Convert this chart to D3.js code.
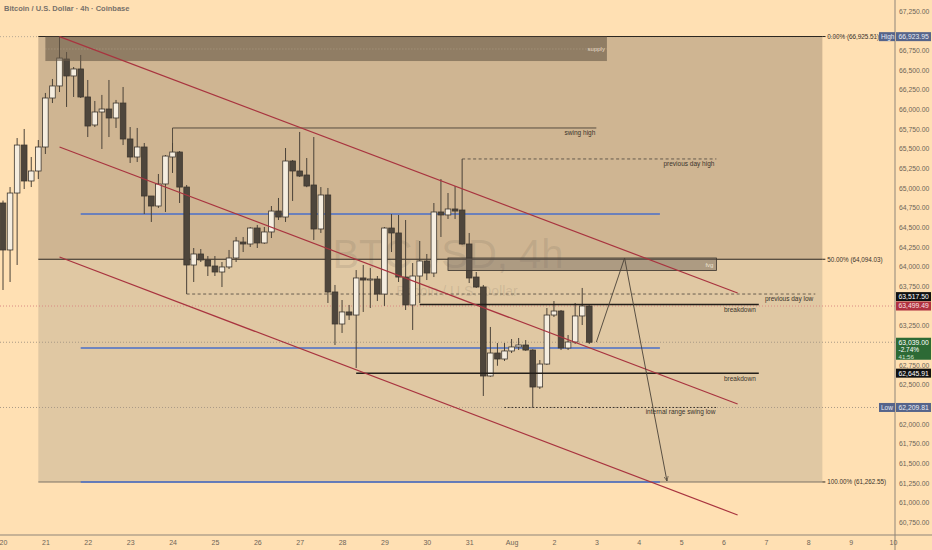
<!DOCTYPE html>
<html>
<head>
<meta charset="utf-8">
<script src="https://cdn.jsdelivr.net/npm/d3@7"></script>
<style>
body { margin: 0; background: #ffe0b3; }
svg { display: block; font-family: 'Liberation Sans', Arial, sans-serif; }
</style>
</head>
<body>
<svg id="chart"></svg>
<script>
// 4h candles, first one opens 20 Jul 00:00 UTC
let firstCandle = Date.UTC(2024, 6, 20)
let opens = [64809,64212,64936,65546,65089,65216,65521,66144,66297,66640,66424,66513,66157,65801,65966,66004,65890,66080,65623,65394,
  65521,64898,64771,65051,65394,65457,65012,64021,64161,64085,64008,63932,63996,64110,64313,64288,64491,64301,64441,64707,
  64631,65343,65216,65165,65038,64479,64911,63678,63271,63424,63385,63856,63830,63843,63652,64491,64428,63868,63513,63881,
  64072,63919,64695,64657,64733,64720,64288,63868,63741,62610,62902,62826,62928,62979,63004,62940,62470,62762,63385,63436,
  62966,63042,63373,63500]
let highs = [64840,65012,65635,65750,65394,65610,66208,66386,66924,66729,66538,66691,66373,66106,66183,66373,66119,66284,65775,65763,
  65572,64898,65178,65419,65572,65470,65038,64237,64224,64135,64135,64059,64212,64377,64377,64504,64530,64504,64771,64873,
  65508,65356,65712,65381,65648,65012,65000,63767,63576,63513,63957,64021,63982,63881,64504,64669,64657,64593,64046,64326,
  64161,64809,65114,64936,65025,65369,64428,63932,63767,63233,63029,63029,63080,63093,63067,62950,62813,63474,63563,63449,
  63131,63538,63729,63510]
let lows = [63703,63805,64021,64987,65012,65114,65432,66080,66220,66030,66157,66144,65648,65775,65496,65648,65763,65546,65318,65330,
  64669,64568,64746,64695,65191,64809,63652,63805,64059,63881,63881,63741,63970,64059,64186,64250,64237,64290,64364,64593,
  64568,64835,65140,65010,64339,64428,63538,63004,63157,63322,62711,63424,63474,63563,63500,64186,63805,63449,63195,63538,
  63830,63868,64377,64606,64606,64280,63792,63729,62356,62600,62740,62801,62902,62940,62930,62210,62445,62750,63360,62940,
  62940,63017,63258,63017]
let closes = [64212,64936,65546,65089,65216,65521,66144,66297,66652,66424,66513,66157,65788,65966,66004,65890,66080,65623,65394,65521,
  64898,64771,65051,65406,65457,65012,64021,64161,64085,64008,63932,63996,64110,64326,64288,64491,64301,64441,64707,64631,
  65343,65216,65152,65025,64479,64911,63678,63271,63424,63385,63856,63830,63843,63652,64491,64428,63868,63513,63881,64072,
  63919,64695,64657,64733,64707,64288,63856,63741,62610,62902,62826,62928,62979,63004,62940,62470,62762,63385,63436,62966,
  63042,63373,63500,63039]

let dayTicks = d3.range(20, 32).map(d => Date.UTC(2024, 6, d)).concat(d3.range(1, 11).map(d => Date.UTC(2024, 7, d)))
let priceTicks = d3.range(60750, 67251, 250)

// fibonacci retracement
let fibHigh = 66925.51
let fibLow = 61262.55
let fibLevels = [0, 0.5, 1]
let fibSpan = ['2024-07-20T20:00Z', '2024-08-08T08:00Z']

// zones and levels drawn on the chart
let supplyZone = { from: '2024-07-21T00:00Z', to: '2024-08-03T06:00Z', top: 66925, mid: 66767, bottom: 66614, label: 'supply' }
let fvgZone = { from: '2024-07-30T12:00Z', to: '2024-08-05T20:00Z', top: 64110, bottom: 63950, label: 'fvg' }
let blueLevels = [64669, 62966, 61262.55]
let blueSpan = ['2024-07-21T20:00Z', '2024-08-04T12:00Z']
let swingHigh = { label: 'swing high', from: '2024-07-24T00:00Z', to: '2024-08-03T00:00Z', price: 65763, base: 65457 }
let dashedLevels = [
  { label: 'previous day high', from: '2024-07-30T20:00Z', to: '2024-08-05T20:00Z', price: 65369 },
  { label: 'previous day low', from: '2024-07-24T08:00Z', to: '2024-08-08T04:00Z', price: 63652 }
]
let solidLevels = [
  { label: 'breakdown', from: '2024-07-29T20:00Z', to: '2024-08-06T20:00Z', price: 63517.5 },
  { label: 'breakdown', from: '2024-07-28T08:00Z', to: '2024-08-06T20:00Z', price: 62645.91 }
]
let dottedLevels = [
  { label: 'internal range swing low', from: '2024-07-31T20:00Z', to: '2024-08-05T20:00Z', price: 62209.81 }
]
let channelLines = [
  [['2024-07-21T08:00Z', 66924], ['2024-08-06T08:00Z', 63665]],
  [['2024-07-21T08:00Z', 65521], ['2024-08-06T08:00Z', 62254]],
  [['2024-07-21T08:00Z', 64123], ['2024-08-06T08:00Z', 60843]]
]
let projection = [['2024-08-03T00:00Z', 63040], ['2024-08-03T16:00Z', 64110], ['2024-08-04T16:00Z', 61275]]

// price tags on the right axis
let highPrice = 66923.95
let lowPrice = 62209.81
let lastPrice = 63039.00
let lastChange = '-2.74%'
let countdown = '41:56'
let redLine = 63499.49

let width = 932
let height = 550
let axisX = 895
let axisY = 535

let svg = d3.select('#chart').attr('width', width).attr('height', height)

let x = d3.scaleUtc().domain([Date.UTC(2024, 6, 20), Date.UTC(2024, 7, 10)]).range([3, 893])
let y = d3.scaleLinear().domain([60750, 67250]).range([522.3, 11])
let T = s => new Date(s)
let times = opens.map((o, i) => new Date(firstCandle + i * 4 * 3600 * 1000))
let fmt = d3.format(',.2f')

svg.append('rect').attr('width', width).attr('height', height).attr('fill', '#ffe0b3')

// fib zones
let fibPrice = l => fibHigh - (fibHigh - fibLow) * l
let fx0 = x(T(fibSpan[0])), fx1 = x(T(fibSpan[1]))
svg.append('rect').attr('x', fx0).attr('width', fx1 - fx0)
  .attr('y', y(fibPrice(0))).attr('height', y(fibPrice(0.5)) - y(fibPrice(0)))
  .attr('fill', '#cfb592')
svg.append('rect').attr('x', fx0).attr('width', fx1 - fx0)
  .attr('y', y(fibPrice(0.5))).attr('height', y(fibPrice(1)) - y(fibPrice(0.5)))
  .attr('fill', '#e0c8a3')

// high / low / last price dotted lines
svg.append('line').attr('x1', 0).attr('x2', axisX).attr('y1', y(highPrice)).attr('y2', y(highPrice))
  .attr('stroke', '#b8a994').attr('stroke-dasharray', '1,2')
svg.append('line').attr('x1', 0).attr('x2', axisX).attr('y1', y(lowPrice)).attr('y2', y(lowPrice))
  .attr('stroke', '#a99a86').attr('stroke-dasharray', '1,2')
svg.append('line').attr('x1', 0).attr('x2', axisX).attr('y1', y(lastPrice)).attr('y2', y(lastPrice))
  .attr('stroke', '#a99a86').attr('stroke-dasharray', '1,2')
svg.append('line').attr('x1', 0).attr('x2', axisX).attr('y1', y(redLine)).attr('y2', y(redLine))
  .attr('stroke', '#d98a84').attr('stroke-dasharray', '1,2')

// watermark
svg.append('text').attr('x', 448).attr('y', 268).attr('text-anchor', 'middle')
  .attr('font-size', 40).attr('fill', 'rgba(110,100,88,0.17)').text('BTCUSD, 4h')
svg.append('text').attr('x', 457).attr('y', 296).attr('text-anchor', 'middle')
  .attr('font-size', 14).attr('fill', 'rgba(110,100,88,0.17)').text('Bitcoin / U.S. Dollar')

// fib lines
fibLevels.forEach(l => {
  svg.append('line').attr('x1', fx0).attr('x2', fx1).attr('y1', y(fibPrice(l))).attr('y2', y(fibPrice(l)))
    .attr('stroke', l === 1 ? '#7d7366' : '#2b2620').attr('stroke-width', 1.2)
  svg.append('line').attr('x1', fx1).attr('x2', fx1 + 3).attr('y1', y(fibPrice(l))).attr('y2', y(fibPrice(l)))
    .attr('stroke', '#2b2620')
  svg.append('text').attr('x', fx1 + 5).attr('y', y(fibPrice(l)) + 2.3)
    .attr('font-size', 6.3).attr('fill', '#3b342c')
    .text(d3.format('.2f')(l * 100) + '% (' + fmt(fibPrice(l)) + ')')
})

// blue levels
blueLevels.forEach(p => {
  svg.append('line').attr('x1', x(T(blueSpan[0]))).attr('x2', x(T(blueSpan[1])))
    .attr('y1', y(p)).attr('y2', y(p)).attr('stroke', '#4a6fc9').attr('stroke-width', 1.5)
})

// swing high
svg.append('path')
  .attr('d', d3.line()([[x(T(swingHigh.from)), y(swingHigh.base)], [x(T(swingHigh.from)), y(swingHigh.price)], [x(T(swingHigh.to)), y(swingHigh.price)]]))
  .attr('fill', 'none').attr('stroke', '#4a4238').attr('stroke-width', 0.9)
svg.append('text').attr('x', x(T(swingHigh.to)) - 1).attr('y', y(swingHigh.price) + 7).attr('text-anchor', 'end')
  .attr('font-size', 6.5).attr('fill', '#3b342c').text(swingHigh.label)

// dashed levels
dashedLevels.forEach(d => {
  svg.append('line').attr('x1', x(T(d.from))).attr('x2', x(T(d.to))).attr('y1', y(d.price)).attr('y2', y(d.price))
    .attr('stroke', '#5a5146').attr('stroke-dasharray', '3,2.5').attr('stroke-width', 0.9)
  svg.append('text').attr('x', x(T(d.to)) - 2).attr('y', y(d.price) + 7).attr('text-anchor', 'end')
    .attr('font-size', 6.5).attr('fill', '#3b342c').text(d.label)
})

// candles
let bodyW = 5.6
let candles = svg.append('g')
candles.selectAll('line').data(times).join('line')
  .attr('x1', d => x(d)).attr('x2', d => x(d))
  .attr('y1', (d, i) => y(highs[i])).attr('y2', (d, i) => y(lows[i]))
  .attr('stroke', '#4a4238').attr('stroke-width', 1)
candles.selectAll('rect').data(times).join('rect')
  .attr('x', d => x(d) - bodyW / 2).attr('width', bodyW)
  .attr('y', (d, i) => y(Math.max(opens[i], closes[i])))
  .attr('height', (d, i) => Math.max(1, Math.abs(y(opens[i]) - y(closes[i]))))
  .attr('fill', (d, i) => closes[i] >= opens[i] ? '#f5eddf' : '#4e463c')
  .attr('stroke', '#3e372f').attr('stroke-width', 0.8)

// supply zone
let sx0 = x(T(supplyZone.from)), sx1 = x(T(supplyZone.to))
svg.append('rect').attr('x', sx0).attr('width', sx1 - sx0)
  .attr('y', y(supplyZone.top)).attr('height', y(supplyZone.bottom) - y(supplyZone.top))
  .attr('fill', 'rgba(105,90,72,0.62)')
svg.append('line').attr('x1', sx0).attr('x2', sx1).attr('y1', y(supplyZone.mid)).attr('y2', y(supplyZone.mid))
  .attr('stroke', 'rgba(190,175,150,0.6)').attr('stroke-dasharray', '1,2')
svg.append('text').attr('x', sx1 - 2).attr('y', y(supplyZone.mid) + 2.3).attr('text-anchor', 'end')
  .attr('font-size', 6).attr('fill', '#e6dac6').text(supplyZone.label)

// fvg zone
let gx0 = x(T(fvgZone.from)), gx1 = x(T(fvgZone.to))
svg.append('rect').attr('x', gx0).attr('width', gx1 - gx0)
  .attr('y', y(fvgZone.top)).attr('height', y(fvgZone.bottom) - y(fvgZone.top))
  .attr('fill', 'rgba(110,100,90,0.45)').attr('stroke', '#3a342d').attr('stroke-width', 0.8)
svg.append('text').attr('x', gx1 - 3).attr('y', (y(fvgZone.top) + y(fvgZone.bottom)) / 2 + 2.3).attr('text-anchor', 'end')
  .attr('font-size', 6).attr('fill', '#eee3d2').text(fvgZone.label)

// solid breakdown levels
solidLevels.forEach(d => {
  svg.append('line').attr('x1', x(T(d.from))).attr('x2', x(T(d.to))).attr('y1', y(d.price)).attr('y2', y(d.price))
    .attr('stroke', '#231f1a').attr('stroke-width', 1.5)
  svg.append('text').attr('x', x(T(d.to)) - 3).attr('y', y(d.price) + 7.5).attr('text-anchor', 'end')
    .attr('font-size', 6.5).attr('fill', '#3b342c').text(d.label)
})

// dotted levels
dottedLevels.forEach(d => {
  svg.append('line').attr('x1', x(T(d.from))).attr('x2', x(T(d.to))).attr('y1', y(d.price)).attr('y2', y(d.price))
    .attr('stroke', '#3b342c').attr('stroke-dasharray', '1.5,2').attr('stroke-width', 1)
  svg.append('text').attr('x', x(T(d.to)) - 1).attr('y', y(d.price) + 7).attr('text-anchor', 'end')
    .attr('font-size', 6.5).attr('fill', '#3b342c').text(d.label)
})

// channel lines
channelLines.forEach(l => {
  svg.append('path').attr('d', d3.line()(l.map(p => [x(T(p[0])), y(p[1])])))
    .attr('stroke', '#a8343f').attr('stroke-width', 1.2).attr('fill', 'none')
})

// projection path with arrow
svg.append('defs').append('marker').attr('id', 'arrow')
  .attr('viewBox', '0 0 10 10').attr('refX', 9).attr('refY', 5)
  .attr('markerWidth', 6).attr('markerHeight', 6).attr('orient', 'auto')
  .append('path').attr('d', 'M0,1 L9,5 L0,9').attr('fill', 'none').attr('stroke', '#4a4238').attr('stroke-width', 1.2)
svg.append('path').attr('d', d3.line()(projection.map(p => [x(T(p[0])), y(p[1])])))
  .attr('fill', 'none').attr('stroke', '#4a4238').attr('stroke-width', 0.9).attr('marker-end', 'url(#arrow)')

// axes frame
svg.append('line').attr('x1', axisX).attr('x2', axisX).attr('y1', 0).attr('y2', height).attr('stroke', '#8f8578')
svg.append('line').attr('x1', 0).attr('x2', width).attr('y1', axisY).attr('y2', axisY).attr('stroke', '#8f8578')

// tag boxes on the price axis (top, bottom in pixels) so tick labels under them are skipped
let tagBoxes = [
  [y(highPrice) - 4.5, y(highPrice) + 4.5],
  [y(solidLevels[0].price) - 12.5, y(redLine) + 4.5],
  [y(lastPrice) - 4.5, y(lastPrice) + 17.5],
  [y(solidLevels[1].price) - 4.5, y(solidLevels[1].price) + 4.5],
  [y(lowPrice) - 4.5, y(lowPrice) + 4.5]
]
let visibleTicks = priceTicks.filter(p => !tagBoxes.some(b => y(p) + 3.2 > b[0] && y(p) - 3.2 < b[1]))

let yAxis = d3.axisRight(y).tickValues(visibleTicks).tickFormat(fmt).tickSize(0).tickPadding(4)
let yg = svg.append('g').attr('transform', 'translate(' + axisX + ',0)').call(yAxis)
yg.select('.domain').remove()
yg.selectAll('text').attr('font-size', 6.8).attr('fill', '#6e6558').attr('font-family', 'Liberation Sans, Arial, sans-serif')

let xAxis = d3.axisBottom(x).tickValues(dayTicks.map(d => new Date(d)))
  .tickFormat(d => d.getUTCDate() === 1 ? 'Aug' : d.getUTCDate()).tickSize(0).tickPadding(5)
let xg = svg.append('g').attr('transform', 'translate(0,' + axisY + ')').call(xAxis)
xg.select('.domain').remove()
xg.selectAll('text').attr('font-size', 7).attr('fill', '#6e6558').attr('font-family', 'Liberation Sans, Arial, sans-serif')

// axis tags
let tag = (price, text, bg, fg, dy) => {
  let cy = y(price) + (dy || 0)
  svg.append('rect').attr('x', axisX + 1).attr('y', cy - 4.5).attr('width', 35).attr('height', 9).attr('fill', bg)
  svg.append('text').attr('x', axisX + 3.5).attr('y', cy + 2.4).attr('font-size', 6.8).attr('fill', fg).text(text)
}
let sideTag = (price, text) => {
  svg.append('rect').attr('x', axisX - 16).attr('y', y(price) - 4.5).attr('width', 16).attr('height', 9).attr('fill', '#56648a')
  svg.append('text').attr('x', axisX - 14).attr('y', y(price) + 2.4).attr('font-size', 6.5).attr('fill', '#e8ecf5').text(text)
}
tag(highPrice, fmt(highPrice), '#56648a', '#e8ecf5')
sideTag(highPrice, 'High')
tag(solidLevels[0].price, fmt(solidLevels[0].price), '#111', '#fff', -8)
tag(redLine, fmt(redLine), '#b03140', '#fbe3e3')
tag(solidLevels[1].price, fmt(solidLevels[1].price), '#111', '#fff')
tag(lowPrice, fmt(lowPrice), '#56648a', '#e8ecf5')
sideTag(lowPrice, 'Low')

let ly = y(lastPrice)
svg.append('rect').attr('x', axisX + 1).attr('y', ly - 4.5).attr('width', 35).attr('height', 22).attr('fill', '#2d6a35')
svg.append('text').attr('x', axisX + 3.5).attr('y', ly + 2.4).attr('font-size', 6.8).attr('fill', '#fff').text(fmt(lastPrice))
svg.append('text').attr('x', axisX + 3.5).attr('y', ly + 9.6).attr('font-size', 6.5).attr('fill', '#fff').text(lastChange)
svg.append('text').attr('x', axisX + 3.5).attr('y', ly + 16.4).attr('font-size', 6.2).attr('fill', '#cfe2cf').text(countdown)

// title
svg.append('text').attr('x', 4).attr('y', 11).attr('font-size', 7.5).attr('font-weight', 'bold')
  .attr('fill', '#77716a').text('Bitcoin / U.S. Dollar · 4h · Coinbase')
</script>
</body>
</html>
